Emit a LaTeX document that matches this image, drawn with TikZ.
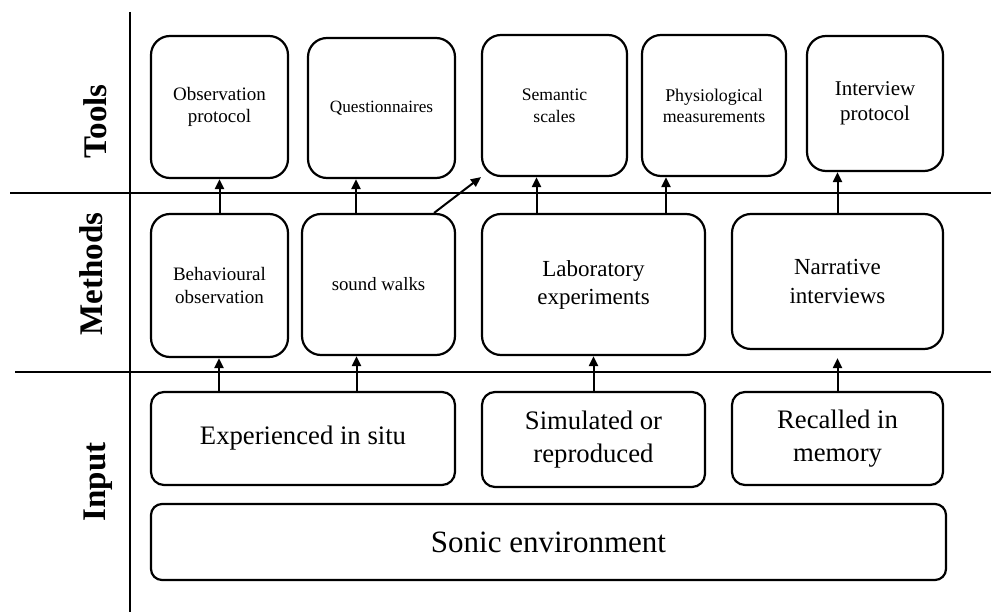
\documentclass[tikz,border=0pt]{standalone}
\usepackage{fontspec}
\setmainfont{Liberation Serif}
\usetikzlibrary{arrows.meta}
\newcommand{\fs}[2]{\fontsize{#1}{#2}\selectfont}
\begin{document}
\begin{tikzpicture}[x=1pt,y=-1pt,
  box/.style={draw, line width=2.2pt, rounded corners=19pt, align=center,
              inner sep=0pt, text=black},
  inbox/.style={box, rounded corners=13pt},
  arr/.style={line width=2pt, -{Triangle[length=10pt,width=9pt]}},
  sep/.style={line width=1.5pt},
  rowlabel/.style={rotate=90, anchor=base, font=\bfseries\fs{33}{33}}]
\useasboundingbox (0,0) rectangle (991,612);

% grid lines separating the rows
\draw[sep] (130,12) -- (130,612);
\draw[sep] (10,193) -- (991,193);
\draw[sep] (15,372) -- (991,372);

% row labels
\node[rowlabel] (ltools) at (106,121.5) {Tools};
\node[rowlabel] (lmeth) at (102,274) {Methods};
\node[rowlabel] (linput) at (105,482) {Input};

% tools
\node[box, minimum width=137pt, minimum height=142pt, font=\fs{19}{22}] (obs) at (219.5,107) {Observation\\protocol};
\node[box, minimum width=147pt, minimum height=140pt, font=\fs{17.2}{21}] (quest) at (381.5,108) {Questionnaires};
\node[box, minimum width=145pt, minimum height=141pt, font=\fs{17.6}{22}] (sem) at (554.5,105.5) {Semantic\\scales};
\node[box, minimum width=144pt, minimum height=141pt, font=\fs{17.9}{21}] (phys) at (714,105.5) {Physiological\\measurements};
\node[box, minimum width=136pt, minimum height=135pt, font=\fs{21}{25}] (intv) at (875,103.5) {Interview\\protocol};

% methods
\node[box, minimum width=137pt, minimum height=143pt, font=\fs{19}{23}] (beh) at (219.5,285.5) {Behavioural\\observation};
\node[box, minimum width=153pt, minimum height=141pt, font=\fs{18.8}{23}] (walk) at (378.5,284.5) {sound walks};
\node[box, minimum width=223pt, minimum height=141pt, font=\fs{23}{28}] (lab) at (593.5,284.5) {Laboratory\\experiments};
\node[box, minimum width=211pt, minimum height=135pt, font=\fs{23}{29}] (narr) at (837.5,281.5) {Narrative\\interviews};

% input
\node[inbox, minimum width=304pt, minimum height=93pt, font=\fs{26.7}{33}] (exp) at (303,438.5) {Experienced in situ};
\node[inbox, minimum width=223pt, minimum height=95pt, font=\fs{26.7}{33}] (sim) at (593.5,439.5) {Simulated or\\reproduced};
\node[inbox, minimum width=211pt, minimum height=93pt, font=\fs{26.7}{33}] (rec) at (837.5,438.5) {Recalled in\\memory};
\node[inbox, rounded corners=11pt, minimum width=795pt, minimum height=76pt, font=\fs{31}{36}] (sonic) at (548.5,542) {Sonic environment};

% methods -> tools
\draw[arr] (beh.north) -- (obs.south);
\draw[arr] ([xshift=-22.5pt]walk.north) -- ([xshift=-22.5pt]walk.north |- quest.south);
\draw[arr] ([xshift=-22pt]walk.north east) -- (sem.south west);
\draw[arr] ([xshift=-57pt]lab.north) -- ([xshift=-57pt]lab.north |- sem.south);
\draw[arr] ([xshift=72.5pt]lab.north) -- ([xshift=72.5pt]lab.north |- phys.south);
\draw[arr] (narr.north) -- (narr.north |- intv.south);

% input -> methods
\draw[arr] ([xshift=-84pt]exp.north) -- ([xshift=-84pt]exp.north |- beh.south);
\draw[arr] ([xshift=53.5pt]exp.north) -- ([xshift=53.5pt]exp.north |- walk.south);
\draw[arr] (sim.north) -- (lab.south);
\draw[arr, shorten >=8pt] (rec.north) -- (narr.south);
\end{tikzpicture}
\end{document}
